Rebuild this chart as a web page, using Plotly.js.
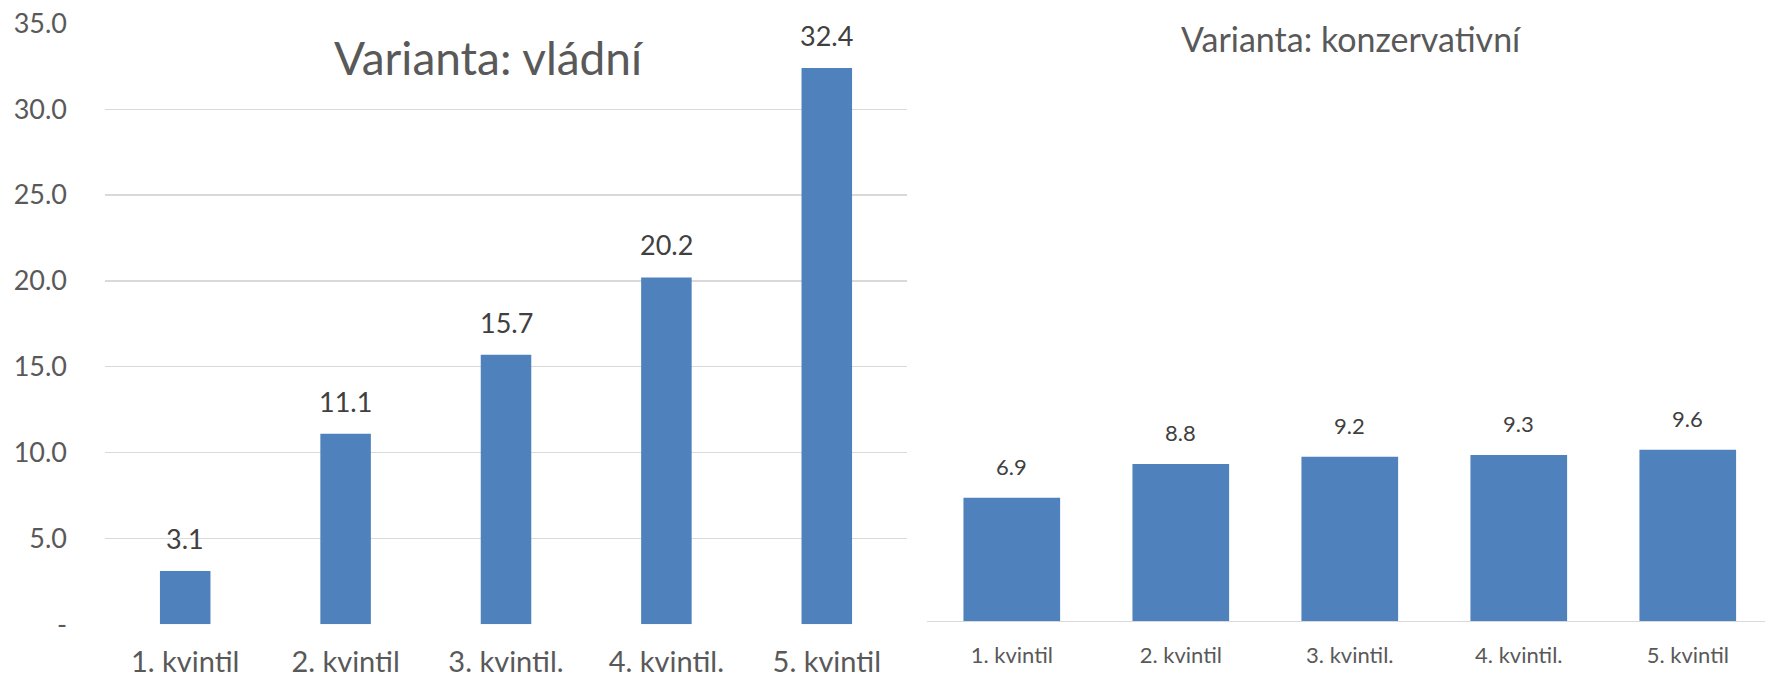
<!DOCTYPE html>
<html>
<head>
<meta charset="utf-8">
<script src="https://cdn.plot.ly/plotly-3.0.1.min.js"></script>
<style>
  html, body { margin: 0; padding: 0; background: #ffffff; }
  #chart { width: 1765px; height: 678px; }
</style>
</head>
<body>
<div id="chart"></div>
<script>
// ---- data ----
const categories = ["1. kvintil", "2. kvintil", "3. kvintil.", "4. kvintil.", "5. kvintil"];
const vladni = [3.1, 11.1, 15.7, 20.2, 32.4];
const konzervativni = [6.9, 8.8, 9.2, 9.3, 9.6];
const yTickVals = [0, 5, 10, 15, 20, 25, 30, 35];
const yTickText = ["-", "5.0", "10.0", "15.0", "20.0", "25.0", "30.0", "35.0"];
const titleLeft = "Varianta: vládní";
const titleRight = "Varianta: konzervativní";

// ---- styles ----
const W = 1765, H = 678;
const FONT = "Lato, 'Open Sans', sans-serif";
const BAR = "#4f81bd";
const GRID = "#d9d9d9";
const TICK = "#595959";
const LABEL = "#404040";

const traces = [
  { type: "bar", x: categories, y: vladni, xaxis: "x", yaxis: "y",
    width: vladni.map(() => 0.315),
    marker: { color: BAR }, hoverinfo: "none" },
  { type: "bar", x: categories, y: konzervativni, xaxis: "x2", yaxis: "y2",
    width: konzervativni.map(() => 0.572),
    marker: { color: BAR }, hoverinfo: "none" }
];

const annotations = [];
vladni.forEach((v, i) => annotations.push({
  x: categories[i], y: v, xref: "x", yref: "y", text: v.toFixed(1),
  showarrow: false, yanchor: "bottom", yshift: 14,
  font: { family: FONT, size: 27, color: LABEL }
}));
konzervativni.forEach((v, i) => annotations.push({
  x: categories[i], y: v, xref: "x2", yref: "y2", text: v.toFixed(1),
  showarrow: false, yanchor: "bottom", yshift: 16,
  font: { family: FONT, size: 22, color: LABEL }
}));
annotations.push({
  x: 489 / W, y: 1 - 57 / H, xref: "paper", yref: "paper", text: titleLeft,
  showarrow: false, xanchor: "center", yanchor: "middle",
  font: { family: FONT, size: 46, color: "#595959" }
});
annotations.push({
  x: 1351 / W, y: 1 - 38 / H, xref: "paper", yref: "paper", text: titleRight,
  showarrow: false, xanchor: "center", yanchor: "middle",
  font: { family: FONT, size: 34, color: "#595959" }
});

const layout = {
  width: W, height: H,
  margin: { l: 0, r: 0, t: 0, b: 0, pad: 0 },
  paper_bgcolor: "#ffffff", plot_bgcolor: "rgba(0,0,0,0)",
  showlegend: false,
  font: { family: FONT, color: TICK },
  xaxis: {
    domain: [105 / W, 907 / W], type: "category", range: [-0.5, 4.5],
    showgrid: false, zeroline: false, showline: false, ticks: "",
    tickfont: { family: FONT, size: 29, color: TICK }, ticklabelstandoff: 18,
    fixedrange: true
  },
  yaxis: {
    domain: [(H - 624.3) / H, (H - 23.3) / H], range: [0, 35],
    tickvals: yTickVals, ticktext: yTickText,
    showgrid: true, gridcolor: GRID, gridwidth: 1.3, zeroline: false, showline: false, ticks: "",
    tickfont: { family: FONT, size: 27, color: TICK }, ticklabelstandoff: 37,
    fixedrange: true
  },
  xaxis2: {
    domain: [927.3 / W, 1], type: "category", range: [-0.5, 4.457], anchor: "y2",
    showgrid: false, zeroline: false, showline: true, linecolor: GRID, linewidth: 1.3, ticks: "",
    tickfont: { family: FONT, size: 22, color: TICK }, ticklabelstandoff: 14,
    fixedrange: true
  },
  yaxis2: {
    domain: [(H - 621) / H, 1], range: [0, 34.79], anchor: "x2",
    visible: false, showgrid: false, zeroline: false, fixedrange: true
  },
  annotations: annotations
};

Plotly.newPlot("chart", traces, layout, { staticPlot: true, displayModeBar: false });
</script>
</body>
</html>
